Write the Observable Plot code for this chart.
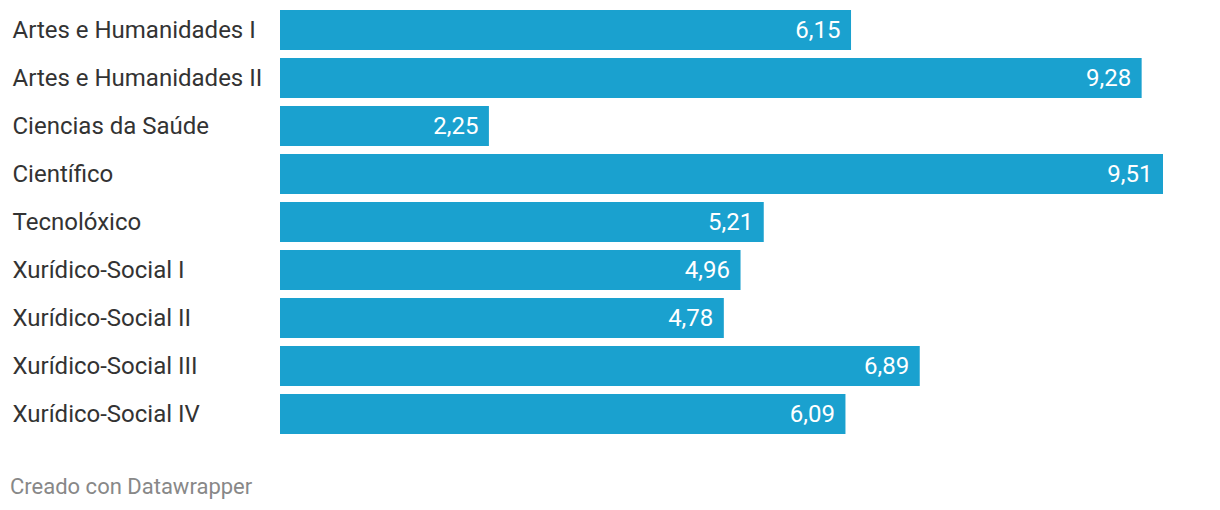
<!DOCTYPE html>
<html>
<head>
<meta charset="utf-8">
<script src="https://cdn.jsdelivr.net/npm/d3@7"></script>
<script src="https://cdn.jsdelivr.net/npm/@observablehq/plot@0.6"></script>
<style>
  html, body { margin: 0; padding: 0; background: #fff; }
  body { width: 1220px; height: 510px; position: relative; font-family: Roboto, sans-serif; }
  #caption { position: absolute; left: 10px; top: 473px; font-size: 22px; line-height: 28px; color: #888; font-family: Roboto, sans-serif; }
</style>
</head>
<body>
<div id="chart"></div>
<div id="caption">Creado con Datawrapper</div>
<script>
const categories = ["Artes e Humanidades I", "Artes e Humanidades II", "Ciencias da Saúde", "Científico", "Tecnolóxico", "Xurídico-Social I", "Xurídico-Social II", "Xurídico-Social III", "Xurídico-Social IV"];
const values = [6.15, 9.28, 2.25, 9.51, 5.21, 4.96, 4.78, 6.89, 6.09];

const data = categories.map((c, i) => ({cat: c, v: values[i]}));
const fmt = v => v.toFixed(2).replace(".", ",");

const chart = Plot.plot({
  width: 1220,
  height: 450,
  marginLeft: 280,
  marginRight: 57,
  marginTop: 10,
  marginBottom: 16,
  style: {fontFamily: "Roboto, sans-serif", fontSize: "24px", background: "white"},
  x: {domain: [0, d3.max(values)], axis: null},
  y: {domain: categories, axis: null, paddingInner: 1/6, paddingOuter: 0},
  marks: [
    Plot.barX(data, {x: "v", y: "cat", fill: "#1aa1cf"}),
    Plot.text(data, {y: "cat", text: "cat", frameAnchor: "left", dx: -268, textAnchor: "start", fill: "#333", fontSize: 24}),
    Plot.text(data, {x: "v", y: "cat", text: d => fmt(d.v), textAnchor: "end", dx: -11, fill: "white", fontSize: 24})
  ]
});
document.getElementById("chart").appendChild(chart);
</script>
</body>
</html>
